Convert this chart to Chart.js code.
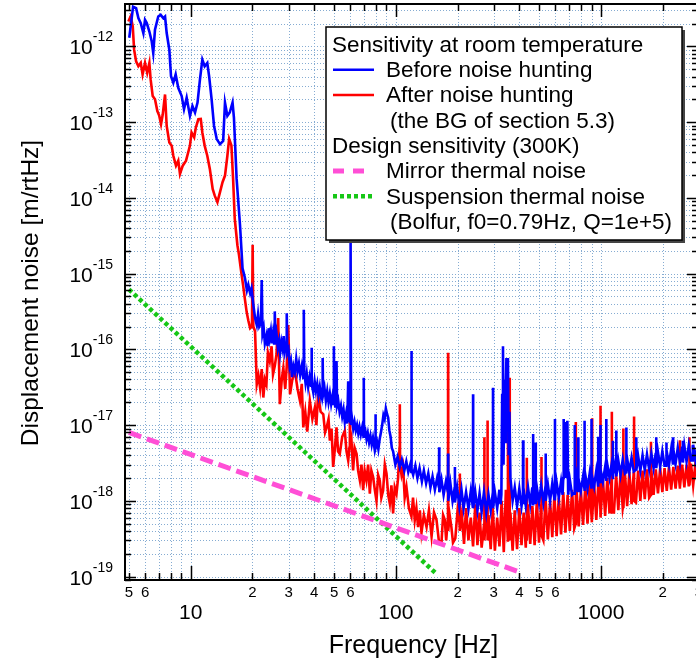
<!DOCTYPE html>
<html>
<head>
<meta charset="utf-8">
<script src="https://cdn.jsdelivr.net/npm/chart.js@4"></script>
<style>
  html, body { margin: 0; padding: 0; overflow: hidden; background: #fff; }
  canvas { display: block; }
</style>
</head>
<body>
<canvas id="myChart" width="702" height="663"></canvas>
<script>
// [frequency Hz, displacement m/rtHz]
const beforeHunting = [
  [5.02, 1.3e-12], [5.24, 3.35e-12], [5.42, 3.2e-12], [5.56, 2.36e-12], [5.71, 2.03e-12], [5.88, 1.5e-12],
  [5.99, 2.24e-12], [6.11, 2.03e-12], [6.29, 1.57e-12], [6.46, 1.16e-12], [6.57, 8.2e-13], [6.70, 1.66e-12],
  [6.95, 2.48e-12], [7.14, 2.61e-12], [7.35, 2.36e-12], [7.50, 2.48e-12], [7.64, 1.5e-12], [7.87, 9.05e-13],
  [8.02, 4.04e-13], [8.23, 3.31e-13], [8.45, 4.26e-13], [8.70, 2.84e-13], [9.04, 2.21e-13], [9.28, 1.48e-13],
  [9.56, 2.1e-13], [9.92, 1.21e-13], [10.2, 1.63e-13], [10.5, 1.34e-13], [10.8, 1.81e-13], [11.1, 3.66e-13],
  [11.4, 6.68e-13], [11.7, 5.47e-13], [12.05, 6.05e-13], [12.3, 4.04e-13], [12.65, 2.0e-13], [13.0, 8.9e-14],
  [13.4, 5.97e-14], [13.9, 5.13e-14], [14.4, 5.66e-14], [14.7, 1.81e-13], [15.1, 1.21e-13], [15.5, 1.34e-13],
  [16.0, 1.81e-13], [16.25, 1.15e-13], [16.75, 1.78e-14], [17.4, 4.35e-15], [17.9, 1.17e-15], [18.4, 8.7e-16],
  [18.8, 6.0e-16], [19.1, 7.1e-16], [19.5, 5.5e-16], [19.8, 6.4e-16],
  [20.2, 3.9e-16], [20.6, 2.6e-16], [21.0, 2.1e-16], [21.3, 2.9e-16], [21.6, 2.0e-16], [22.0, 2.2e-16],
  [22.2, 8.2e-16], [22.4, 1.6e-16], [22.7, 1.9e-16], [23.0, 1.2e-16], [23.4, 1.5e-16], [23.7, 1.1e-16],
  [24.0, 1.9e-16], [24.3, 1.4e-16], [24.6, 1.75e-16], [24.9, 1.2e-16], [25.2, 1.6e-16], [25.5, 1.2e-16],
  [25.7, 3.17e-16], [25.9, 1.3e-16], [26.2, 1.6e-16], [26.6, 1.05e-16], [27.0, 1.3e-16], [27.3, 9e-17],
  [27.7, 1.25e-16], [28.1, 1.0e-16], [28.4, 1.5e-16], [28.8, 9.5e-17], [29.2, 1.2e-16], [29.4, 3.0e-16],
  [29.6, 9e-17], [30.0, 1.0e-16], [30.4, 6e-17], [30.8, 7e-17], [31.2, 4.3e-17], [31.7, 6e-17],
  [32.2, 5e-17], [32.7, 7.5e-17], [33.2, 5.2e-17], [33.7, 6.5e-17], [34.2, 4.6e-17], [34.8, 6e-17],
  [35.4, 4.2e-17], [35.6, 3.33e-16], [35.8, 5.0e-17], [36.3, 3.6e-17], [36.8, 4.8e-17], [37.4, 3.2e-17],
  [38.0, 4.3e-17], [38.6, 3.3e-17], [38.8, 1.05e-16], [39.0, 3.5e-17], [39.6, 2.7e-17], [40.2, 3.8e-17],
  [40.8, 2.8e-17], [41.4, 3.5e-17], [42.0, 2.5e-17], [42.6, 3.2e-17], [43.2, 2.4e-17], [43.8, 3.0e-17],
  [44.0, 7.7e-17], [44.2, 2.5e-17], [44.9, 3.1e-17], [45.6, 2.1e-17], [46.3, 2.8e-17], [47.0, 2.0e-17],
  [47.7, 2.6e-17], [48.4, 1.9e-17], [49.1, 2.4e-17], [49.7, 1.9e-17], [49.9, 1.1e-16], [50.1, 2.4e-17],
  [50.7, 1.7e-17], [51.2, 2.2e-17], [51.4, 7e-17], [51.7, 1.8e-17], [52.4, 2.1e-17], [53.2, 1.5e-17],
  [54.0, 1.8e-17], [54.8, 1.3e-17], [55.6, 1.6e-17], [56.4, 1.1e-17], [57.2, 1.4e-17], [58.0, 1.05e-17],
  [58.6, 3.8e-17], [58.9, 1.1e-17], [59.5, 1.35e-17], [60.0, 1.1e-17], [60.2, 2.63e-15], [60.5, 1.0e-17],
  [61.2, 1.2e-17], [62.0, 9e-18], [62.9, 1.1e-17], [63.8, 8.5e-18], [64.7, 1.0e-17], [65.6, 7.8e-18],
  [66.5, 9.5e-18], [67.5, 7.5e-18], [68.5, 9.2e-18], [69.6, 7e-18], [69.8, 4.2e-17], [70.0, 7.8e-18],
  [71.0, 8.5e-18], [72.0, 6.5e-18], [73.0, 7.8e-18], [74.1, 5.9e-18], [75.2, 7.2e-18], [76.3, 5.5e-18],
  [77.4, 6.8e-18], [78.5, 5.2e-18], [79.4, 6.3e-18], [79.6, 1.39e-17], [79.8, 5.0e-18], [81.0, 6.0e-18],
  [82.2, 4.8e-18], [83.4, 6.5e-18], [84.6, 8e-18], [85.8, 1.0e-17], [87.0, 1.35e-17], [88.2, 1.2e-17],
  [89.4, 1.65e-17], [90.6, 1.4e-17], [91.8, 1.25e-17], [93.0, 8.5e-18], [94.3, 7e-18], [95.6, 5e-18],
  [97.0, 4.5e-18], [99.5, 3.0e-18], [102, 3.8e-18], [104.5, 2.8e-18], [107, 3.5e-18], [110, 2.5e-18],
  [112.5, 3.3e-18], [115, 2.4e-18], [117.5, 3.0e-18], [119, 2.4e-18], [119.2, 9.5e-17], [119.5, 2.6e-18],
  [121.5, 2.2e-18], [124.5, 2.9e-18], [127.5, 2.0e-18], [130.5, 2.7e-18], [134, 1.8e-18], [137, 2.5e-18],
  [140.5, 1.7e-18], [144, 2.3e-18], [147.5, 1.5e-18], [151, 2.1e-18], [155, 1.4e-18], [159, 2.0e-18],
  [162.3, 1.5e-18], [162.6, 5.1e-18], [163, 1.3e-18], [167, 1.9e-18], [171, 1.2e-18], [175.5, 1.8e-18],
  [179.5, 1.3e-18], [179.8, 4.2e-18], [180.2, 1.0e-18], [184.5, 1.7e-18], [189, 1.0e-18], [193.7, 1.5e-18],
  [194, 2.8e-18], [194.3, 9.5e-19], [199, 1.5e-18], [204, 8.5e-19], [209, 1.4e-18], [214, 8e-19],
  [220, 1.3e-18], [226, 7.8e-19], [232, 1.35e-18], [237.7, 8e-19], [238, 2.55e-17], [238.3, 8e-19],
  [244, 1.3e-18], [250, 7.5e-19], [256, 1.25e-18], [262, 7.2e-19], [269, 1.3e-18], [276, 7e-19],
  [283, 1.2e-18], [290, 7.5e-19], [297.4, 1.3e-18], [297.7, 3.1e-17], [298, 8e-19], [304, 1.3e-18],
  [312, 8e-19], [320, 1.4e-18], [324, 9e-19], [327, 1.2e-18], [330, 2.5e-17], [333, 1.1e-16],
  [335, 3e-18], [338, 4e-17], [341, 6e-18], [344, 3e-17], [346, 7.7e-17], [349, 1e-17],
  [352, 7.7e-17], [355, 4e-18], [358, 1.5e-17], [362, 2e-18], [371, 1.0e-18], [380, 1.5e-18],
  [390, 8.5e-19], [400, 1.45e-18], [410, 8.5e-19], [416.7, 1.2e-18], [417, 6.3e-18], [417.3, 9e-19],
  [420, 1.5e-18], [430, 8.7e-19], [441, 1.5e-18], [452, 9e-19], [463, 1.5e-18], [466.7, 9e-19],
  [467, 7.6e-18], [467.3, 9e-19], [475, 1.55e-18], [480.7, 1.4e-18], [481, 5.9e-18], [481.3, 9e-19],
  [487, 1.5e-18], [499, 9.5e-19], [511, 1.6e-18], [524, 9.5e-19], [537.5, 1.6e-18], [537.8, 4.2e-18],
  [538.1, 1e-18], [551, 1.65e-18], [565, 1.0e-18], [579, 1.7e-18], [593, 1.05e-18], [596.7, 1.2e-18],
  [597, 1.2e-17], [597.3, 1.1e-18], [608, 1.75e-18], [623, 1.1e-18], [639, 1.8e-18], [650, 1.2e-18],
  [655, 2e-18], [658, 1.2e-17], [663, 2.5e-18], [668, 1.1e-17], [673, 2e-18], [680, 8e-18],
  [686, 1.14e-17], [692, 1.2e-18], [705, 1.9e-18], [723, 1.2e-18], [744.7, 1.3e-18], [745, 1.0e-17],
  [745.3, 1.2e-18], [760, 2.0e-18], [772.7, 1.3e-18], [773, 6.9e-18], [773.3, 1.3e-18], [779, 2.0e-18],
  [798, 1.35e-18], [818, 2.1e-18], [831.7, 1.4e-18], [832, 1.14e-17], [832.3, 1.4e-18], [839, 2.2e-18],
  [860, 1.45e-18], [881, 2.3e-18], [897.7, 1.5e-18], [898, 1.2e-17], [898.3, 1.5e-18], [903, 2.3e-18],
  [926, 1.55e-18], [949, 2.5e-18], [967.7, 1.6e-18], [968, 7e-18], [968.3, 1.6e-18], [973, 2.5e-18],
  [993.7, 2e-18], [994, 1.0e-17], [994.3, 1.7e-18], [997, 2.6e-18], [1022, 1.8e-18], [1048, 2.8e-18],
  [1061.7, 1.9e-18], [1062, 1.2e-17], [1062.3, 1.9e-18], [1074, 3.0e-18], [1101, 2.0e-18], [1128, 3.1e-18],
  [1142.7, 2e-18], [1143, 6.2e-18], [1143.3, 2e-18], [1157, 3.2e-18], [1187.7, 2.2e-18], [1188, 8.5e-18],
  [1188.3, 2.1e-18], [1215, 3.4e-18], [1246, 2.2e-18], [1277, 3.5e-18], [1309, 2.3e-18], [1329.7, 2.4e-18],
  [1330, 9.3e-18], [1330.3, 2.3e-18], [1342, 3.6e-18], [1375, 2.4e-18], [1410, 3.7e-18], [1445, 2.45e-18],
  [1486.7, 2.6e-18], [1487, 6.9e-18], [1487.3, 2.5e-18], [1518, 3.9e-18], [1556, 2.5e-18], [1595, 4.0e-18],
  [1635, 2.55e-18], [1676, 4.1e-18], [1718, 2.6e-18], [1761, 4.2e-18], [1805, 2.7e-18], [1850, 4.3e-18],
  [1859.7, 2.8e-18], [1860, 6.9e-18], [1860.3, 2.7e-18], [1896, 4.4e-18], [1944, 2.8e-18], [1992, 4.5e-18],
  [2042, 2.9e-18], [2082.7, 2.9e-18], [2083, 5.9e-18], [2083.3, 2.9e-18], [2093, 4.7e-18], [2146, 3.0e-18],
  [2199, 4.8e-18], [2244.7, 3e-18], [2245, 6.9e-18], [2245.3, 3e-18], [2254, 4.9e-18], [2311, 3.1e-18],
  [2368, 5.0e-18], [2428, 3.2e-18], [2488, 5.2e-18], [2507.7, 3.2e-18], [2508, 6.2e-18], [2508.3, 3.2e-18],
  [2550, 5.3e-18], [2614, 3.3e-18], [2680, 5.4e-18], [2747, 3.4e-18], [2802.7, 3.4e-18], [2803, 5.4e-18],
  [2803.3, 3.4e-18], [2815, 5.5e-18], [2886, 3.5e-18], [2958, 5.5e-18]
];

const afterHunting = [
  [4.97, 2.13e-12], [5.10, 2.5e-12], [5.22, 1.83e-12], [5.30, 9.05e-13], [5.42, 6.35e-13], [5.56, 5.47e-13],
  [5.71, 6.05e-13], [5.83, 4.26e-13], [5.99, 6.05e-13], [6.14, 4.48e-13], [6.29, 6.05e-13], [6.38, 3.66e-13],
  [6.53, 2.21e-13], [6.70, 2.0e-13], [6.88, 1.4e-13], [7.03, 1.21e-13], [7.17, 9.4e-14], [7.31, 1.27e-13],
  [7.50, 2.32e-13], [7.64, 8.9e-14], [7.87, 5.4e-14], [8.08, 4.88e-14], [8.23, 3.6e-14], [8.48, 2.66e-14],
  [8.70, 3.1e-14], [8.87, 2.07e-14], [9.15, 2.66e-14], [9.49, 3.1e-14], [9.73, 4.0e-14], [9.92, 4.9e-14],
  [10.1, 7.3e-14], [10.4, 6.3e-14], [10.6, 8.5e-14], [10.9, 1.09e-13], [11.2, 1.1e-13], [11.4, 7.3e-14],
  [11.7, 4.9e-14], [12.05, 3.6e-14], [12.4, 2.41e-14], [12.8, 1.31e-14], [13.1, 1.07e-14], [13.5, 8.8e-15],
  [13.9, 1.19e-14], [14.3, 1.61e-14], [14.7, 1.97e-14], [15.1, 3.6e-14], [15.4, 6.0e-14], [15.8, 4.9e-14],
  [16.1, 1.78e-14], [16.4, 5.3e-15], [16.9, 2.37e-15], [17.2, 1.77e-15], [17.6, 1.1e-15], [18.0, 7.1e-16],
  [18.4, 4.5e-16], [18.75, 3.1e-16], [19.1, 2.4e-16], [19.5, 1.9e-16], [19.9, 2.0e-16], [20.05, 2.4e-15],
  [20.2, 2.0e-16], [20.6, 1.73e-16], [21.0, 3.45e-17], [21.4, 4.5e-17], [21.8, 3.1e-17], [22.2, 5.5e-17],
  [22.6, 2.31e-17], [23.0, 4e-17], [23.4, 3.45e-17], [23.8, 9e-17], [24.3, 7.0e-17], [24.8, 1.1e-16],
  [25.2, 4.67e-17], [25.7, 6e-17], [26.2, 8.55e-17], [26.7, 2.59e-16], [27.2, 1.89e-17], [27.8, 4e-17],
  [28.3, 5.7e-17], [28.9, 3e-17], [29.4, 6e-17], [29.9, 2.1e-16], [30.5, 2.55e-17], [31.3, 4e-17],
  [32.2, 5.2e-17], [33.2, 3e-17], [34.1, 2.1e-17], [34.8, 3.5e-17], [35.4, 9.3e-18], [36.2, 1.5e-17],
  [37.0, 8.2e-18], [38.1, 2.1e-17], [39.2, 1.2e-17], [40.3, 1.7e-17], [41.0, 1.0e-17], [41.8, 2.55e-17],
  [43.0, 1.5e-17], [44.3, 1.39e-17], [45.2, 8e-18], [46.0, 9.3e-18], [47.0, 1.2e-17], [47.7, 6.24e-18],
  [48.6, 9e-18], [49.5, 2.8e-18], [50.5, 5e-18], [51.4, 9.3e-18], [52.3, 4.5e-18], [53.3, 4.16e-18],
  [54.8, 7e-18], [56.4, 8.45e-18], [57.5, 4.5e-18], [58.6, 3.41e-18], [59.4, 5e-18], [59.7, 2.55e-17],
  [60.0, 5e-18], [60.8, 6.2e-18], [61.9, 2.52e-18], [63.0, 5e-18], [64.4, 4.16e-18], [65.5, 2.5e-18],
  [66.8, 1.86e-18], [68.0, 3e-18], [69.3, 1.38e-18], [70.5, 2.5e-18], [71.9, 1.86e-18], [73.3, 3e-18],
  [74.7, 1.24e-18], [76.0, 2.5e-18], [77.5, 2.06e-18], [79.0, 1.4e-18], [80.5, 1.0e-18], [82.0, 2.2e-18],
  [83.5, 1.86e-18], [85.0, 1.1e-18], [86.7, 1.37e-18], [88.4, 3e-18], [90.1, 2.28e-18], [91.8, 1.2e-18],
  [93.5, 9.2e-19], [95.2, 1.6e-18], [97.0, 6.8e-19], [98.8, 1.5e-18], [100.8, 1.24e-18], [102.6, 2e-18],
  [104.3, 5e-18], [104.6, 1.89e-17], [104.9, 3e-18], [106.6, 2.2e-18], [108.5, 2.79e-18], [110.5, 1.1e-18],
  [112.7, 1.52e-18], [115.8, 8e-19], [119.2, 6.2e-19], [121.3, 1.1e-18], [123.7, 5.56e-19], [126, 8e-19],
  [128.4, 4.5e-19], [131, 7.5e-19], [133.4, 3.8e-19], [137, 6.5e-19], [141.2, 4.5e-19], [145, 7.5e-19],
  [149.4, 3.4e-19], [153.5, 7e-19], [157.9, 5.6e-19], [162, 3e-19], [167, 2.8e-19], [170, 6.5e-19],
  [173.3, 5.6e-19], [176, 3e-19], [179.6, 6e-19], [179.8, 9.0e-17], [180.1, 4e-19], [183, 6.5e-19],
  [186.6, 4.5e-19], [190, 2.8e-19], [195, 3.2e-19], [200, 7.5e-19], [204.6, 5e-19], [205, 2.3e-18],
  [205.4, 4e-19], [210, 6.5e-19], [215, 2.7e-19], [220, 8e-19], [226, 3e-19], [232, 6e-19],
  [238, 2.5e-19], [244, 9e-19], [250, 2.6e-19], [256, 7e-19], [262, 2.4e-19], [269.5, 5e-19],
  [270, 6.9e-18], [270.5, 3e-19], [276, 8e-19], [279.7, 4e-19], [280, 1.15e-17], [280.3, 3e-19],
  [283, 6.5e-19], [290, 2.3e-19], [297, 8e-19], [304, 2.2e-19], [312, 6e-19], [320, 2.5e-19],
  [328, 1.0e-18], [336, 2.1e-19], [344, 1.4e-18], [351.5, 3e-19], [352, 1.6e-17], [352.5, 4e-19],
  [358.5, 5e-19], [359, 4.2e-17], [359.5, 3e-19], [362, 7e-19], [371, 2.2e-19], [380, 7.5e-19],
  [390, 2.3e-19], [400, 8e-19], [410, 2.6e-19], [420, 7e-19], [430, 2.4e-19], [434.6, 6e-19],
  [435, 3.7e-18], [435.4, 3e-19], [441, 9e-19], [452, 2.7e-19], [463, 8.5e-19], [475, 2.6e-19],
  [487, 1.0e-18], [499, 2.8e-19], [511, 9e-19], [512.6, 5e-19], [513, 3.8e-18], [513.4, 3.5e-19],
  [524, 3e-19], [537, 1.1e-18], [551, 3.1e-19], [565, 1.0e-18], [579, 3.3e-19], [593, 1.2e-18],
  [608, 3.4e-19], [623, 1.1e-18], [639, 3.6e-19], [655, 1.3e-18], [671, 3.8e-19], [688, 1.2e-18],
  [705, 4e-19], [723, 1.4e-18], [741, 4.3e-19], [753.6, 5e-19], [754, 1.1e-17], [754.4, 5e-19],
  [760, 1.5e-18], [779, 4.6e-19], [798, 1.4e-18], [818, 4.8e-19], [839, 1.6e-18], [860, 5e-19],
  [881, 1.7e-18], [903, 5.2e-19], [905.6, 8e-19], [906, 1.23e-17], [906.4, 6e-19], [926, 1.7e-18],
  [949, 5.6e-19], [973, 1.9e-18], [993.6, 8e-19], [994, 1.8e-17], [994.4, 6e-19], [997, 6e-19],
  [1022, 2.0e-18], [1048, 6.3e-19], [1074, 2.0e-18], [1101, 6.8e-19], [1128, 2.1e-18], [1129.6, 8e-19],
  [1130, 1.5e-17], [1130.4, 7e-19], [1157, 7e-19], [1186, 2.2e-18], [1215, 7.5e-19], [1246, 2.3e-18],
  [1277, 8e-19], [1285.5, 9e-19], [1286, 9e-18], [1286.5, 8e-19], [1309, 2.3e-18], [1342, 8.5e-19],
  [1375, 2.4e-18], [1410, 9e-19], [1445, 2.4e-18], [1449.5, 1.2e-18], [1450, 1.3e-17], [1450.5, 1e-18],
  [1481, 9.5e-19], [1518, 2.5e-18], [1556, 1.0e-18], [1595, 2.5e-18], [1635, 1.05e-18], [1676, 2.6e-18],
  [1718, 1.1e-18], [1752.5, 1.2e-18], [1753, 6e-18], [1753.5, 1.3e-18], [1761, 2.5e-18], [1805, 1.2e-18],
  [1850, 2.6e-18], [1896, 1.25e-18], [1944, 2.7e-18], [1992, 1.3e-18], [2042, 2.7e-18], [2093, 1.35e-18],
  [2146, 2.8e-18], [2199, 1.4e-18], [2254, 2.8e-18], [2311, 1.45e-18], [2368, 2.9e-18], [2424.5, 1.5e-18],
  [2425, 6.3e-18], [2425.5, 1.5e-18], [2488, 3.0e-18], [2550, 1.5e-18], [2614, 3.0e-18], [2680, 1.55e-18],
  [2699.5, 2e-18], [2700, 6.9e-18], [2700.5, 1.6e-18], [2747, 3.1e-18], [2815, 1.6e-18], [2886, 3.1e-18],
  [2958, 1.65e-18]
];

const mirrorThermal = [[5, 8.0e-18], [411, 1.12e-19]];
const suspensionThermal = [[5, 6.2e-16], [157, 1.1e-19]];

const xMinorLabels = [5, 6, 20, 30, 40, 50, 60, 200, 300, 400, 500, 600, 2000, 3000];
const xMajorLabels = [10, 100, 1000];
const yExponents = [-12, -13, -14, -15, -16, -17, -18, -19];

const xTitle = "Frequency [Hz]";
const yTitle = "Displacement noise [m/rtHz]";
const legendRows = [
  { text: "Sensitivity at room temperature", indent: 0 },
  { text: "Before noise hunting", indent: 1, mark: "before" },
  { text: "After noise hunting", indent: 1, mark: "after" },
  { text: "(the BG of section 5.3)", indent: 2 },
  { text: "Design sensitivity (300K)", indent: 0 },
  { text: "Mirror thermal noise", indent: 1, mark: "mirror" },
  { text: "Suspension thermal noise", indent: 1, mark: "susp" },
  { text: "(Bolfur, f0=0.79Hz, Q=1e+5)", indent: 2 }
];

const FONT = '"Liberation Sans", Arial, Helvetica, sans-serif';
const styles = {
  before: { color: "#0000ff", width: 2.6, dash: [] },
  after: { color: "#ff0000", width: 2.6, dash: [] },
  mirror: { color: "#ff4fd6", width: 5, dash: [13, 6] },
  susp: { color: "#16c716", width: 4.5, dash: [4, 3] }
};

function toPoints(pairs) {
  return pairs.map(function (p) { return { x: p[0], y: p[1] }; });
}

function logSteps(min, max) {
  const out = [];
  for (let e = Math.floor(Math.log10(min)); e <= Math.ceil(Math.log10(max)); e++) {
    for (let m = 1; m < 10; m++) {
      const v = m * Math.pow(10, e);
      if (v >= min * 0.9999 && v <= max * 1.0001) out.push({ v: v, major: m === 1 });
    }
  }
  return out;
}

const framePlugin = {
  id: "frame",
  beforeDatasetsDraw(chart) {
    const ctx = chart.ctx, a = chart.chartArea, x = chart.scales.x, y = chart.scales.y;
    ctx.save();
    ctx.strokeStyle = "#86acd2";
    ctx.lineWidth = 1;
    ctx.setLineDash([1, 2]);
    ctx.beginPath();
    logSteps(x.min, x.max).forEach(function (t) {
      const p = Math.round(x.getPixelForValue(t.v)) + 0.5;
      ctx.moveTo(p, a.top); ctx.lineTo(p, a.bottom);
    });
    logSteps(y.min, y.max).forEach(function (t) {
      const p = Math.round(y.getPixelForValue(t.v)) + 0.5;
      ctx.moveTo(a.left, p); ctx.lineTo(a.right, p);
    });
    ctx.stroke();
    ctx.restore();
  },
  afterDraw(chart) {
    const ctx = chart.ctx, a = chart.chartArea, x = chart.scales.x, y = chart.scales.y;
    ctx.save();
    ctx.strokeStyle = "#000";
    ctx.lineWidth = 1.5;
    ctx.setLineDash([]);
    ctx.beginPath();
    logSteps(x.min, x.max).forEach(function (t) {
      const p = Math.round(x.getPixelForValue(t.v)) + 0.5;
      ctx.moveTo(p, a.bottom); ctx.lineTo(p, a.bottom - (t.major ? 14 : 7));
      ctx.moveTo(p, a.top); ctx.lineTo(p, a.top + (t.major ? 13 : 7));
    });
    logSteps(y.min, y.max).forEach(function (t) {
      const p = Math.round(y.getPixelForValue(t.v)) + 0.5;
      ctx.moveTo(a.left, p); ctx.lineTo(a.left + (t.major ? 11 : 6), p);
      ctx.moveTo(a.right, p); ctx.lineTo(a.right - (t.major ? 11 : 6), p);
    });
    ctx.stroke();
    ctx.lineWidth = 2;
    ctx.strokeRect(a.left, a.top, a.right - a.left, a.bottom - a.top);

    // tick labels
    ctx.fillStyle = "#000";
    ctx.textAlign = "center";
    ctx.textBaseline = "alphabetic";
    ctx.font = "15px " + FONT;
    xMinorLabels.forEach(function (v) {
      ctx.fillText(String(v / Math.pow(10, Math.floor(Math.log10(v)))), x.getPixelForValue(v), a.bottom + 17);
    });
    ctx.font = "21px " + FONT;
    xMajorLabels.forEach(function (v) {
      ctx.fillText(String(v), x.getPixelForValue(v), a.bottom + 39);
    });
    yExponents.forEach(function (e) {
      const p = y.getPixelForValue(Math.pow(10, e));
      const right = a.left - 12;
      ctx.font = "14px " + FONT;
      const we = ctx.measureText(String(e)).width;
      ctx.textAlign = "left";
      ctx.fillText(String(e), right - we, p - 5);
      ctx.font = "21px " + FONT;
      const wb = ctx.measureText("10").width;
      ctx.fillText("10", right - we - wb, p + 8);
    });

    // axis titles
    ctx.font = "25px " + FONT;
    ctx.textAlign = "center";
    ctx.fillText(xTitle, (a.left + a.right) / 2 + 2, 653);
    ctx.font = "24.5px " + FONT;
    ctx.save();
    ctx.translate(38, 293);
    ctx.rotate(-Math.PI / 2);
    ctx.fillText(yTitle, 0, 0);
    ctx.restore();

    // legend box
    const bx = 326, by = 27, bw = 356, bh = 213;
    ctx.fillStyle = "#444";
    ctx.fillRect(bx + 3, by + 3, bw, bh);
    ctx.fillStyle = "#fff";
    ctx.fillRect(bx, by, bw, bh);
    ctx.strokeStyle = "#000";
    ctx.lineWidth = 1.5;
    ctx.strokeRect(bx, by, bw, bh);
    ctx.font = "22.5px " + FONT;
    ctx.textAlign = "left";
    ctx.textBaseline = "middle";
    ctx.fillStyle = "#000";
    const indents = [332, 386, 390];
    legendRows.forEach(function (row, i) {
      const ly = 44.5 + i * 25.3;
      ctx.fillText(row.text, indents[row.indent], ly + 1);
      if (row.mark) {
        const s = styles[row.mark];
        ctx.save();
        ctx.strokeStyle = s.color;
        ctx.lineWidth = row.mark === "before" || row.mark === "after" ? 2.5 : s.width;
        ctx.setLineDash(row.mark === "mirror" ? [11, 9] : s.dash);
        ctx.beginPath();
        ctx.moveTo(333, ly);
        ctx.lineTo(row.mark === "mirror" ? 364 : 374, ly);
        ctx.stroke();
        ctx.restore();
      }
    });
    ctx.restore();
  }
};

new Chart(document.getElementById("myChart").getContext("2d"), {
  type: "line",
  data: {
    datasets: [
      {
        data: toPoints(mirrorThermal), borderColor: styles.mirror.color, borderWidth: styles.mirror.width,
        borderDash: styles.mirror.dash, borderCapStyle: "butt", pointRadius: 0
      },
      {
        data: toPoints(suspensionThermal), borderColor: styles.susp.color, borderWidth: styles.susp.width,
        borderDash: styles.susp.dash, borderCapStyle: "butt", pointRadius: 0
      },
      {
        data: toPoints(beforeHunting), borderColor: styles.before.color, borderWidth: styles.before.width,
        pointRadius: 0, tension: 0
      },
      {
        data: toPoints(afterHunting), borderColor: styles.after.color, borderWidth: styles.after.width,
        pointRadius: 0, tension: 0
      }
    ]
  },
  options: {
    responsive: false,
    animation: false,
    layout: { padding: { top: 4, right: 4, left: 0, bottom: 0 } },
    plugins: { legend: { display: false }, tooltip: { enabled: false } },
    scales: {
      x: {
        type: "logarithmic", min: 4.785, max: 2972,
        ticks: { display: false }, grid: { display: false }, border: { display: false },
        afterFit: function (s) { s.height = 83; }
      },
      y: {
        type: "logarithmic", min: 9.0e-20, max: 3.63e-12,
        ticks: { display: false }, grid: { display: false }, border: { display: false },
        afterFit: function (s) { s.width = 125; }
      }
    }
  },
  plugins: [framePlugin]
});
</script>
</body>
</html>
